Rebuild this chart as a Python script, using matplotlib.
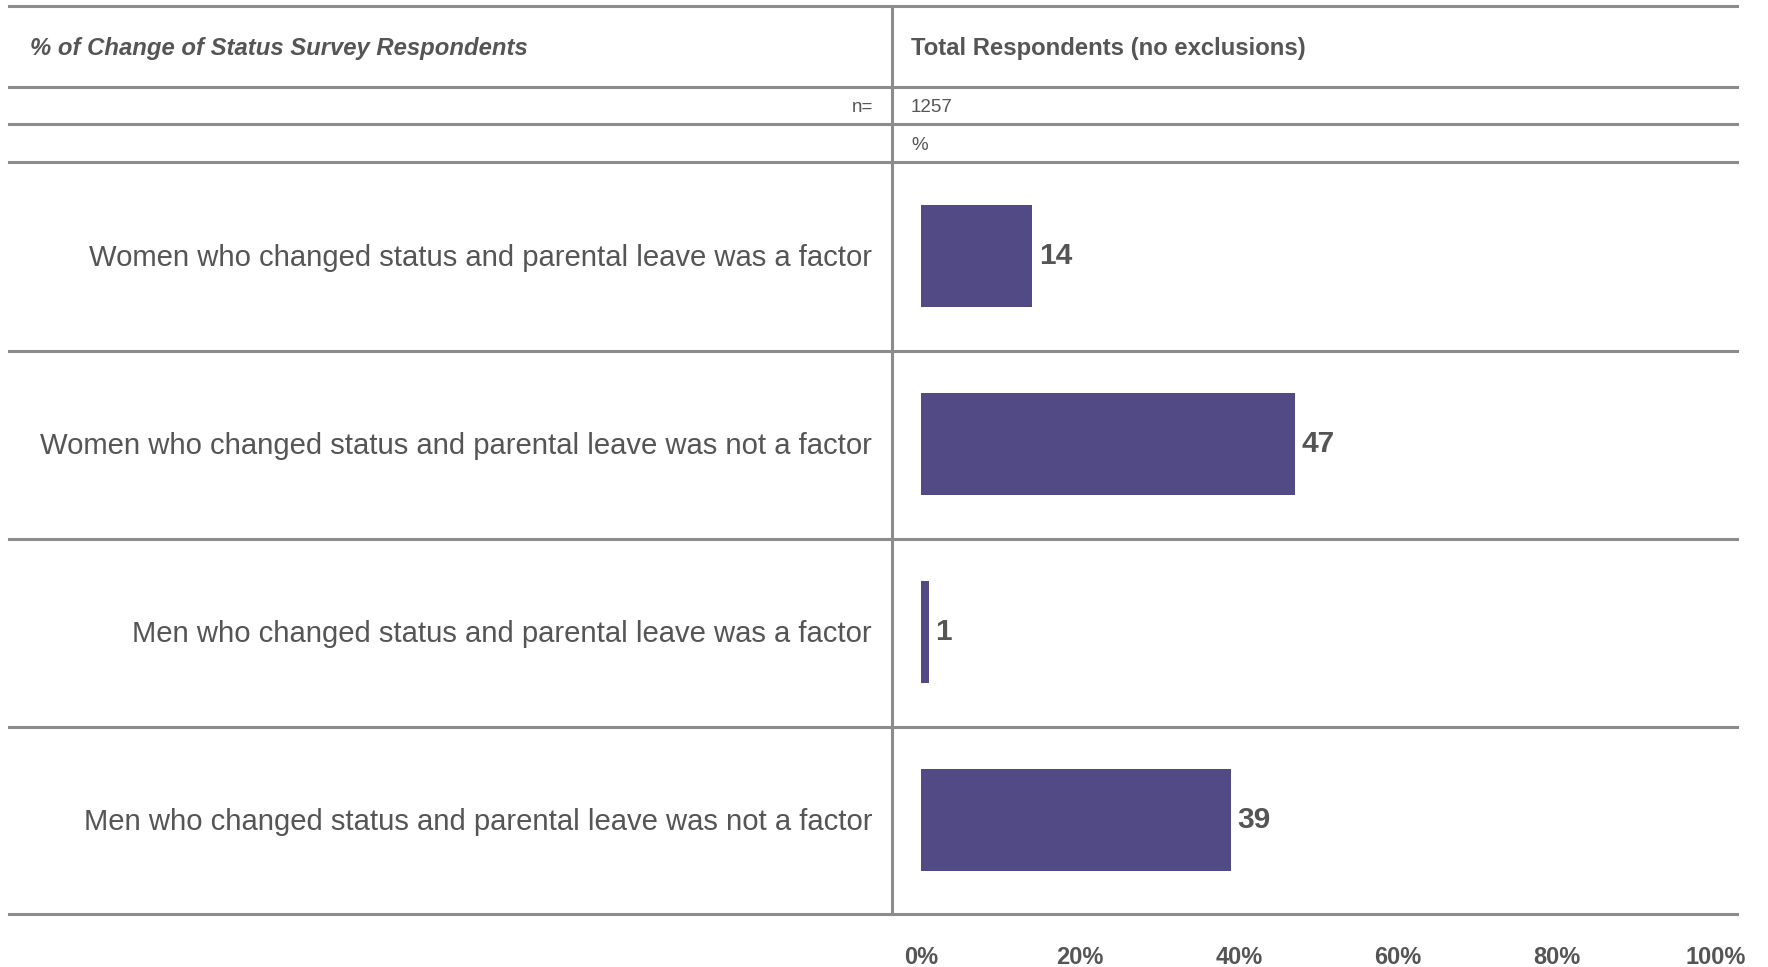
import matplotlib.pyplot as plt
from matplotlib.lines import Line2D
from matplotlib.transforms import blended_transform_factory

plt.rcParams['font.family'] = ['Liberation Sans', 'DejaVu Sans']

categories = [
    'Women who changed status and parental leave was a factor',
    'Women who changed status and parental leave was not a factor',
    'Men who changed status and parental leave was a factor',
    'Men who changed status and parental leave was not a factor',
]
values = [14, 47, 1, 39]
n_total = 1257
title_left = '% of Change of Status Survey Respondents'
title_right = 'Total Respondents (no exclusions)'
ticks = [0, 20, 40, 60, 80, 100]
tick_labels = ['0%', '20%', '40%', '60%', '80%', '100%']

W, H = 1768, 967
BAR = '#524a85'
TXT = '#555555'
GRID = '#8c8c8c'


def fx(px):
    return px / W


def fy(py):
    return 1 - py / H


fig = plt.figure(figsize=(W / 100, H / 100), dpi=100)
ax = fig.add_axes([fx(921), fy(914), fx(1716) - fx(921), fy(162) - fy(914)])

ypos = list(range(len(categories)))
ax.barh(ypos, values, height=0.54, color=BAR)
ax.set_xlim(0, 100)
ax.set_ylim(len(categories) - 0.5, -0.5)
ax.set_yticks([])
ax.set_xticks(ticks)
ax.set_xticklabels(tick_labels, fontsize=17, fontweight='bold', color=TXT)
ax.tick_params(axis='x', length=0, pad=23)
for s in ax.spines.values():
    s.set_visible(False)

for y, v in zip(ypos, values):
    ax.text(v + 0.8, y, str(v), va='center', ha='left', fontsize=21.5,
            fontweight='bold', color=TXT)

# row labels: x in figure coords, y in data coords
trans = blended_transform_factory(fig.transFigure, ax.transData)
for y, cat in zip(ypos, categories):
    ax.text(fx(872), y + 0.01, cat, transform=trans, ha='right', va='center',
            fontsize=21.1, color=TXT)

# table rules
for py in [6, 87, 124, 162, 351, 539, 727, 914]:
    fig.add_artist(Line2D([fx(9), fx(1737)], [fy(py), fy(py)],
                          transform=fig.transFigure, color=GRID, lw=2.2))
fig.add_artist(Line2D([fx(892), fx(892)], [fy(6), fy(914)],
                      transform=fig.transFigure, color=GRID, lw=2.2))

fig.text(fx(30), fy(48), title_left, ha='left', va='center', fontsize=17.2,
         fontweight='bold', fontstyle='italic', color=TXT)
fig.text(fx(911), fy(48), title_right, ha='left', va='center', fontsize=17.2,
         fontweight='bold', color=TXT)
fig.text(fx(873), fy(107), 'n=', ha='right', va='center', fontsize=13.5, color=TXT)
fig.text(fx(911), fy(107), str(n_total), ha='left', va='center', fontsize=13.5, color=TXT)
fig.text(fx(911), fy(145), '%', ha='left', va='center', fontsize=13.5, color=TXT)

fig.savefig('out.png', dpi=100, facecolor='white')
